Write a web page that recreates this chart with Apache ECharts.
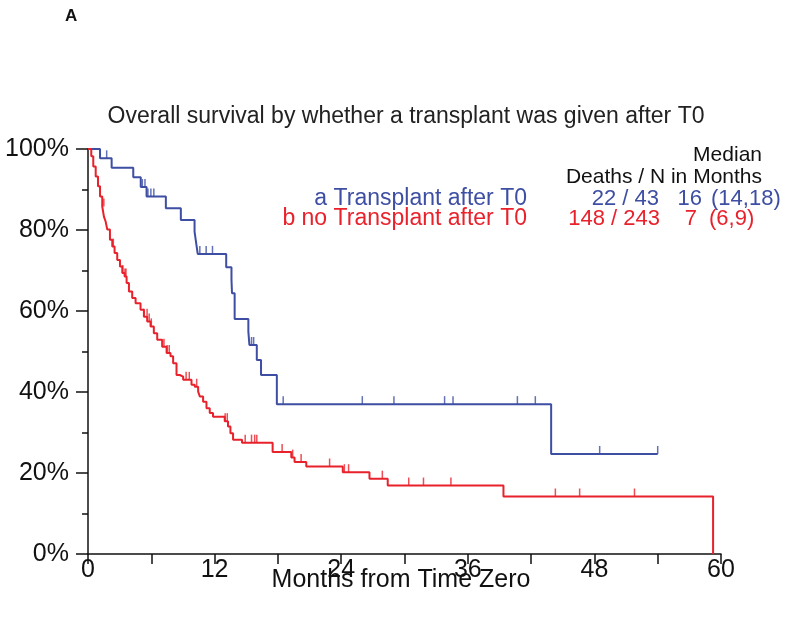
<!DOCTYPE html>
<html>
<head>
<meta charset="utf-8">
<title>Overall survival by transplant after T0</title>
<script src="https://cdn.jsdelivr.net/npm/echarts@6/dist/echarts.min.js"></script>
<style>
    html, body { margin: 0; padding: 0; background: #fff; }
    #main { width: 800px; height: 618px; }
</style>
</head>
<body>
<div id="main"></div>
<script>
'use strict'

// blue group: a Transplant after T0 (months, survival %)
var blueT = [0, 1.14, 2.24, 4.29, 5.0, 5.55, 7.38, 8.8, 10.1, 10.25, 10.4, 13.1, 13.6, 13.65, 13.9, 15.2, 15.3, 16.0, 16.4, 17.9, 43.9, 54.0];
var blueS = [100, 97.7, 95.4, 93.0, 90.6, 88.3, 85.4, 82.5, 79.6, 76.8, 74.1, 70.8, 67.7, 64.4, 58.0, 54.9, 51.6, 47.9, 44.2, 37.0, 24.7, 24.7];
var blueCensor = [1.77, 5.15, 5.4, 5.68, 5.96, 6.24, 10.6, 11.2, 11.8, 15.5, 15.7, 18.5, 26.0, 29.0, 33.8, 34.6, 40.7, 42.4, 48.5, 54.0];

// red group: b no Transplant after T0
var redT = [0, 0.31, 0.5, 0.73, 0.95, 1.14, 1.35, 1.51, 1.67, 1.83, 2.08, 2.3, 2.52, 2.77, 3.03, 3.25, 3.47, 3.66, 3.88, 4.19, 4.51, 4.98, 5.3, 5.61, 5.93, 6.24, 6.56, 7.03, 7.45, 7.82, 8.07, 8.39, 8.7, 9.02, 9.81, 10.12, 10.44, 10.6, 10.91, 11.23, 11.54, 11.85, 12.96, 13.27, 13.5, 13.75, 14.6, 17.5, 19.27, 19.58, 20.69, 24.15, 26.68, 28.41, 39.38, 59.25, 59.25];
var redS = [100, 98.2, 95.7, 93.2, 90.8, 88.3, 85.8, 83.3, 82.1, 80.1, 77.6, 75.9, 74.3, 72.6, 71.0, 69.4, 68.5, 66.9, 64.8, 63.2, 61.9, 60.3, 58.6, 57.4, 56.2, 54.5, 52.9, 51.2, 49.6, 48.8, 47.1, 44.2, 43.8, 43.0, 41.8, 41.3, 40.1, 38.9, 37.6, 36.0, 34.8, 33.9, 32.8, 31.5, 29.8, 28.2, 27.5, 25.2, 23.8, 22.7, 21.6, 20.2, 18.6, 16.9, 14.2, 14.2, 0];
var redCensor = [1.5, 2.4, 3.3, 3.5, 3.6, 5.3, 5.6, 5.8, 6.0, 7.2, 7.5, 7.7, 9.3, 9.6, 10.3, 13.0, 13.2, 14.9, 15.5, 15.8, 16.0, 18.4, 19.4, 20.2, 22.9, 24.3, 24.7, 27.9, 30.4, 31.8, 34.4, 44.3, 46.6, 51.8];

var xTicks = [0, 12, 24, 36, 48, 60];
var yTicks = [0, 20, 40, 60, 80, 100];

var BLUE = '#3d4ea3';
var RED = '#e8212b';
var FONT = '"Liberation Sans", Arial, sans-serif';

function pairs(t, s) {
    var out = [];
    for (var i = 0; i < t.length; i++) {
        out.push([t[i], s[i]]);
    }
    return out;
}

// survival level of a step curve at time x
function levelAt(t, s, x) {
    var v = s[0];
    for (var i = 0; i < t.length; i++) {
        if (t[i] <= x) v = s[i];
    }
    return v;
}

function censorPoints(t, s, c) {
    var out = [];
    for (var i = 0; i < c.length; i++) {
        out.push([c[i], levelAt(t, s, c[i])]);
    }
    return out;
}

function label(x, y, text, size, color, align) {
    return {
        type: 'text', x: x, y: y,
        style: { text: text, font: size + 'px ' + FONT, fill: color, textAlign: align, textVerticalAlign: 'middle' }
    };
}

var myChart = echarts.init(document.getElementById('main'));

var option = {
    backgroundColor: '#fff',
    animation: false,
    grid: { left: 88, right: 79, top: 149, bottom: 64 },
    xAxis: {
        type: 'value',
        min: xTicks[0],
        max: xTicks[xTicks.length - 1],
        interval: 12,
        axisLine: { lineStyle: { color: '#111', width: 1.5 } },
        axisTick: { length: 10, lineStyle: { color: '#111', width: 1.5 } },
        minorTick: { show: true, splitNumber: 2, length: 10, lineStyle: { color: '#111', width: 1.5 } },
        axisLabel: { fontFamily: FONT, fontSize: 25, color: '#111', margin: 4 },
        splitLine: { show: false }
    },
    yAxis: {
        type: 'value',
        min: yTicks[0],
        max: yTicks[yTicks.length - 1],
        interval: 20,
        axisLine: { show: true, lineStyle: { color: '#111', width: 1.5 } },
        axisTick: { show: true, length: 12, lineStyle: { color: '#111', width: 1.5 } },
        minorTick: { show: true, splitNumber: 2, length: 6, lineStyle: { color: '#111', width: 1.5 } },
        axisLabel: { fontFamily: FONT, fontSize: 25, color: '#111', margin: 19, formatter: '{value}%' },
        splitLine: { show: false }
    },
    graphic: [
        { type: 'text', left: 65, top: 8, style: { text: 'A', font: 'bold 17px ' + FONT, fill: '#111' } },
        label(406, 117, 'Overall survival by whether a transplant was given after T0', 23, '#222', 'center'),
        label(401, 580, 'Months from Time Zero', 25, '#111', 'center'),
        label(762, 155, 'Median', 21, '#111', 'right'),
        label(762, 177, 'Deaths / N in Months', 21, '#111', 'right'),
        label(527, 199, 'a Transplant after T0', 23, BLUE, 'right'),
        label(659, 199, '22 / 43', 22, BLUE, 'right'),
        label(702, 199, '16', 22, BLUE, 'right'),
        label(711, 199, '(14,18)', 22, BLUE, 'left'),
        label(527, 219, 'b no Transplant after T0', 23, RED, 'right'),
        label(660, 219, '148 / 243', 22, RED, 'right'),
        label(697, 219, '7', 22, RED, 'right'),
        label(709, 219, '(6,9)', 22, RED, 'left')
    ],
    series: [
        {
            name: 'a Transplant after T0',
            type: 'line',
            step: 'end',
            data: pairs(blueT, blueS),
            showSymbol: false,
            lineStyle: { color: BLUE, width: 2 },
            z: 3
        },
        {
            name: 'b no Transplant after T0',
            type: 'line',
            step: 'end',
            data: pairs(redT, redS),
            showSymbol: false,
            lineStyle: { color: RED, width: 2 },
            z: 4
        },
        {
            // censor marks
            type: 'scatter',
            data: censorPoints(blueT, blueS, blueCensor),
            symbol: 'rect',
            symbolSize: [1.5, 8],
            symbolOffset: [0, -4],
            itemStyle: { color: BLUE },
            z: 3
        },
        {
            type: 'scatter',
            data: censorPoints(redT, redS, redCensor),
            symbol: 'rect',
            symbolSize: [1.5, 8],
            symbolOffset: [0, -4],
            itemStyle: { color: RED },
            z: 4
        }
    ]
};

myChart.setOption(option);
</script>
</body>
</html>
